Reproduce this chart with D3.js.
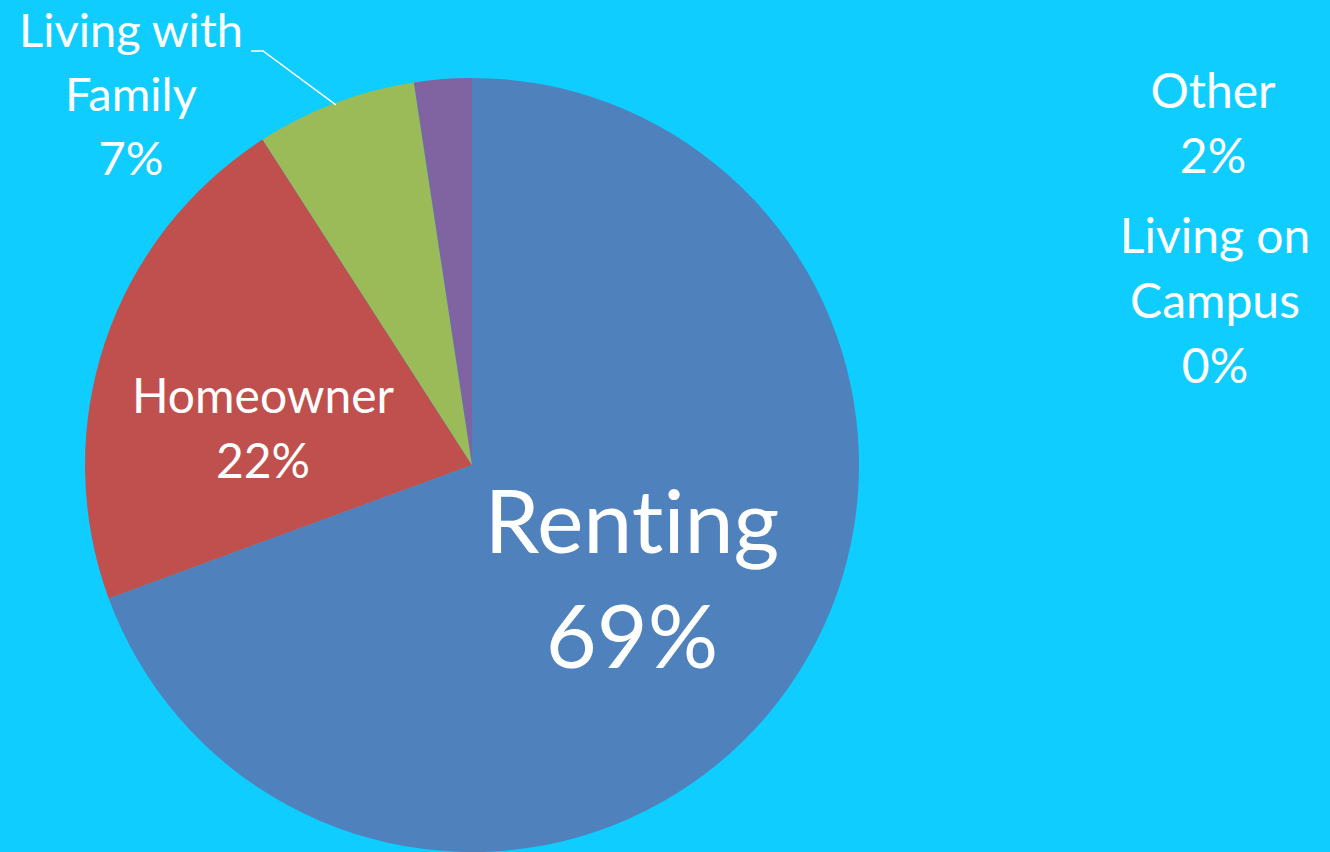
<!DOCTYPE html>
<html><head><meta charset="utf-8">
<script src="https://cdn.jsdelivr.net/npm/d3@7"></script>
<style>html,body{margin:0;padding:0;background:#0fcdff;}svg{display:block;}text{font-variant-ligatures:none;font-feature-settings:"liga" 0;}</style>
</head><body>
<svg id="chart" width="1330" height="852"></svg>
<script>
const categories = ["Renting", "Homeowner", "Living with Family", "Other", "Living on Campus"];
const values = [69.4, 21.5, 6.7, 2.4, 0.0];
const labelLines = [["Renting", "69%"], ["Homeowner", "22%"], ["Living with", "Family", "7%"], ["Other", "2%"], ["Living on", "Campus", "0%"]];
const colors = ["#4f81bd", "#c0504d", "#9bbb59", "#8064a2", "#4bacc6"];

// label placement (manual, like the original)
const labelPos = [
  {x: 632, y: 553, size: 88, lh: 115},
  {x: 263, y: 413, size: 48, lh: 65},
  {x: 131, y: 47, size: 47, lh: 64},
  {x: 1213, y: 108, size: 48, lh: 65},
  {x: 1215, y: 253, size: 48, lh: 65}
];

const svg = d3.select("#chart");
const W = 1330, H = 852;
svg.append("rect").attr("width", W).attr("height", H).attr("fill", "#0fcdff");

const cx = 472, cy = 465, R = 387;
const pie = d3.pie().sort(null).value(d => d);
const arcs = pie(values);
const arc = d3.arc().innerRadius(0).outerRadius(R);
const color = d3.scaleOrdinal().domain(categories).range(colors);

const g = svg.append("g").attr("transform", `translate(${cx},${cy})`);
g.selectAll("path").data(arcs).join("path")
  .attr("d", arc)
  .attr("fill", (d, i) => color(categories[i]));

// leader line for "Living with Family"
const famArc = arcs[2];
const mid = (famArc.startAngle + famArc.endAngle) / 2;
const edge = [cx + R * 0.995 * Math.sin(mid), cy - R * 0.995 * Math.cos(mid)];
svg.append("polyline")
  .attr("points", [[251, 51], [263, 51], edge].map(p => p.join(",")).join(" "))
  .attr("fill", "none").attr("stroke", "#ffffff").attr("stroke-width", 1.5);

const labels = svg.append("g").attr("font-family", "Lato, 'Open Sans', sans-serif").attr("fill", "#ffffff");
labelLines.forEach((lines, i) => {
  const p = labelPos[i];
  const t = labels.append("text").attr("text-anchor", "middle").attr("font-size", p.size);
  lines.forEach((ln, j) => {
    t.append("tspan").attr("x", p.x).attr("y", p.y + j * p.lh).text(ln);
  });
});
</script>
</body></html>
